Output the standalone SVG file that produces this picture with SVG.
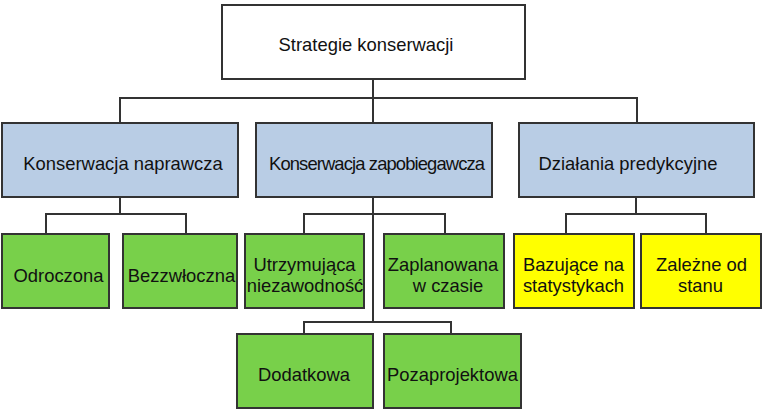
<svg xmlns="http://www.w3.org/2000/svg" width="770" height="415" viewBox="0 0 770 415">
<style>
rect{stroke:#333;stroke-width:2}
.w{fill:#fff}.b{fill:#b9cde5}.g{fill:#78d04a}.y{fill:#ffff00}
text{font-family:"Liberation Sans",Arial,sans-serif;font-size:18.4px;fill:#111;text-anchor:middle}
.c path{fill:none;stroke:#333;stroke-width:2}
</style>
<rect width="770" height="415" fill="#fff" style="stroke:none"/>
<g class="c" id="connectors">
<path d="M373 79V98M120 123V98H637V123M373 98V123"/>
<path d="M120 197V214M46 234V214H186V234"/>
<path d="M373 197V322M304 234V214H445V234M304 334V322H451V334"/>
<path d="M636 197V214M566 234V214H706V234"/>
</g>
<g id="root"><rect class="w" x="222" y="5" width="303" height="74"/><text x="366" y="51">Strategie konserwacji</text></g>
<g id="naprawcza"><rect class="b" x="2" y="123" width="236" height="74"/><text x="123" y="170">Konserwacja naprawcza</text></g>
<g id="zapobiegawcza"><rect class="b" x="256" y="123" width="236" height="74"/><text x="377" y="170" textLength="216" lengthAdjust="spacing">Konserwacja zapobiegawcza</text></g>
<g id="predykcyjne"><rect class="b" x="519" y="123" width="235" height="74"/><text x="628" y="170">Działania predykcyjne</text></g>
<g id="odroczona"><rect class="g" x="2" y="234" width="107" height="74"/><text x="58.5" y="282">Odroczona</text></g>
<g id="bezzwloczna"><rect class="g" x="123" y="234" width="114" height="74"/><text x="181.5" y="282">Bezzwłoczna</text></g>
<g id="utrzymujaca"><rect class="g" x="245" y="234" width="119" height="74"/><text x="304.5" y="271">Utrzymująca</text><text x="305" y="292">niezawodność</text></g>
<g id="zaplanowana"><rect class="g" x="384" y="234" width="120" height="74"/><text x="443" y="271">Zaplanowana</text><text x="448" y="292">w czasie</text></g>
<g id="bazujace"><rect class="y" x="514" y="234" width="120" height="74"/><text x="573.5" y="271">Bazujące na</text><text x="573.5" y="292">statystykach</text></g>
<g id="zalezne"><rect class="y" x="641" y="234" width="120" height="74"/><text x="701.5" y="271">Zależne od</text><text x="700.5" y="292">stanu</text></g>
<g id="dodatkowa"><rect class="g" x="237" y="334" width="136" height="74"/><text x="304" y="381">Dodatkowa</text></g>
<g id="pozaprojektowa"><rect class="g" x="384" y="334" width="137" height="74"/><text x="452.5" y="381">Pozaprojektowa</text></g>
</svg>
